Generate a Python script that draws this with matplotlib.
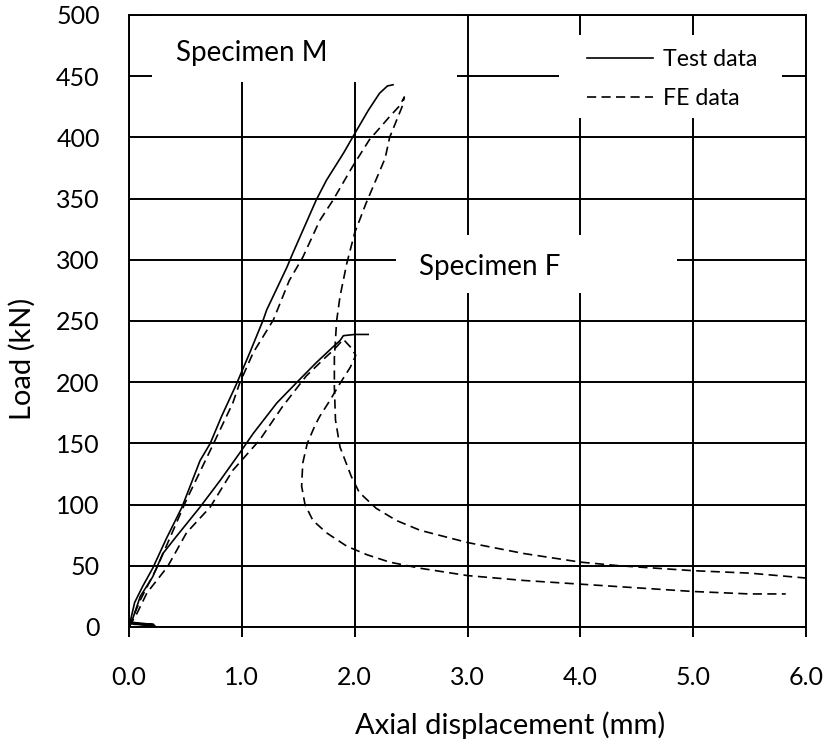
import matplotlib
matplotlib.use("Agg")
import matplotlib.pyplot as plt
from matplotlib.patches import Rectangle

plt.rcParams['font.family'] = ['Lato', 'DejaVu Sans']

# specimen M
m_test_x = [0.0, 0.23, 0.0, 0.22, 0.01, 0.05, 0.12, 0.21, 0.33, 0.47, 0.63, 0.72, 0.82, 0.95,
            1.07, 1.19, 1.22, 1.40, 1.45, 1.66, 1.75, 1.90, 2.00, 2.12, 2.22, 2.29, 2.34]
m_test_y = [0, 1, 3, 2, 4, 20, 33, 48, 72, 98, 136, 150, 172, 198,
            224, 251, 259, 294, 305, 349, 365, 387, 403, 422, 436, 442, 443]
m_fe_x = [0.0, 0.10, 0.25, 0.51, 0.75, 0.92, 0.98, 1.10, 1.28, 1.42, 1.54, 1.69, 1.81, 1.98,
          2.13, 2.31, 2.40, 2.44, 2.42, 2.31, 2.27, 2.10, 2.00, 1.93, 1.87, 1.84, 1.82, 1.82,
          1.83, 1.87, 1.97, 2.04, 2.19, 2.37, 2.58, 3.0, 3.5, 4.0, 4.35, 5.0, 5.5, 6.0]
m_fe_y = [0, 22, 49, 104, 150, 183, 199, 224, 251, 283, 302, 332, 349, 376,
          398, 417, 426, 433, 425, 400, 383, 346, 322, 297, 270, 250, 220, 196,
          169, 147, 123, 110, 97, 87, 79, 69, 60, 53, 50, 46, 44, 40]

# specimen F
f_test_x = [0.0, 0.03, 0.10, 0.21, 0.30, 0.42, 0.63, 0.81, 0.98, 1.10, 1.31, 1.51, 1.66,
            1.81, 1.87, 1.90, 2.00, 2.12]
f_test_y = [0, 6, 25, 41, 60, 74, 98, 120, 142, 158, 183, 202, 216,
            229, 234, 238, 239, 239]
f_fe_x = [0.0, 0.07, 0.16, 0.34, 0.51, 0.72, 0.92, 1.16, 1.36, 1.57, 1.75, 1.81, 1.90,
          1.96, 2.01, 1.96, 1.87, 1.78, 1.69, 1.65, 1.58, 1.54, 1.53, 1.56, 1.63, 1.75,
          1.93, 2.11, 2.31, 2.58, 3.0, 3.5, 4.0, 4.5, 5.0, 5.5, 5.82]
f_fe_y = [0, 11, 28, 49, 77, 98, 128, 153, 180, 205, 221, 226, 235,
          229, 222, 212, 199, 185, 172, 165, 150, 134, 115, 100, 87, 77,
          66, 59, 53, 48, 42, 38, 35, 32, 29, 27, 27]

x_ticks = [0, 1, 2, 3, 4, 5, 6]
y_ticks = [0, 50, 100, 150, 200, 250, 300, 350, 400, 450, 500]

fig = plt.figure(figsize=(8.29, 7.42), dpi=100)
ax = fig.add_axes([0.1556, 0.155, 0.8167, 0.8248])

dash = (0, (5.5, 3.2))
ax.plot(m_test_x, m_test_y, c='k', lw=1.2, zorder=3, label='Test data')
ax.plot(f_test_x, f_test_y, c='k', lw=1.2, zorder=3)
ax.plot(m_fe_x, m_fe_y, c='k', lw=1.2, ls=dash, zorder=3, label='FE data')
ax.plot(f_fe_x, f_fe_y, c='k', lw=1.2, ls=dash, zorder=3)

ax.set_xlim(0, 6)
ax.set_ylim(0, 500)
ax.set_xticks(x_ticks)
ax.set_xticklabels(['%.1f' % v for v in x_ticks])
ax.set_yticks(y_ticks)
ax.grid(True, c='k', lw=1.4)
ax.set_axisbelow(True)
for s in ax.spines.values():
    s.set_linewidth(1.4)
ax.tick_params(axis='x', length=7, width=1.4, labelsize=18, pad=21)
ax.tick_params(axis='y', length=0, labelsize=18, pad=21)

# white label boxes over the grid
for bx, by, bw, bh in [(0.2, 445, 2.71, 55), (3.81, 416, 1.98, 68), (2.37, 273, 2.49, 47)]:
    ax.add_patch(Rectangle((bx, by), bw, bh, fc='white', ec='none', zorder=2))

ax.text(1.09, 469, 'Specimen M', fontsize=20, ha='center', va='center', zorder=4)
ax.text(3.20, 294, 'Specimen F', fontsize=20, ha='center', va='center', zorder=4)

leg = ax.legend(loc='upper left', bbox_to_anchor=(0.6765, 0.944), frameon=False,
                fontsize=16.7, handlelength=2.85, handletextpad=0.43,
                labelspacing=0.78, borderpad=0, borderaxespad=0)

ax.set_xlabel('Axial displacement (mm)', fontsize=21, va='center')
ax.xaxis.set_label_coords(0.563, -0.160)
ax.set_ylabel('Load (kN)', fontsize=21, va='center')
ax.yaxis.set_label_coords(-0.157, 0.438)

fig.savefig('out.png', dpi=100)
